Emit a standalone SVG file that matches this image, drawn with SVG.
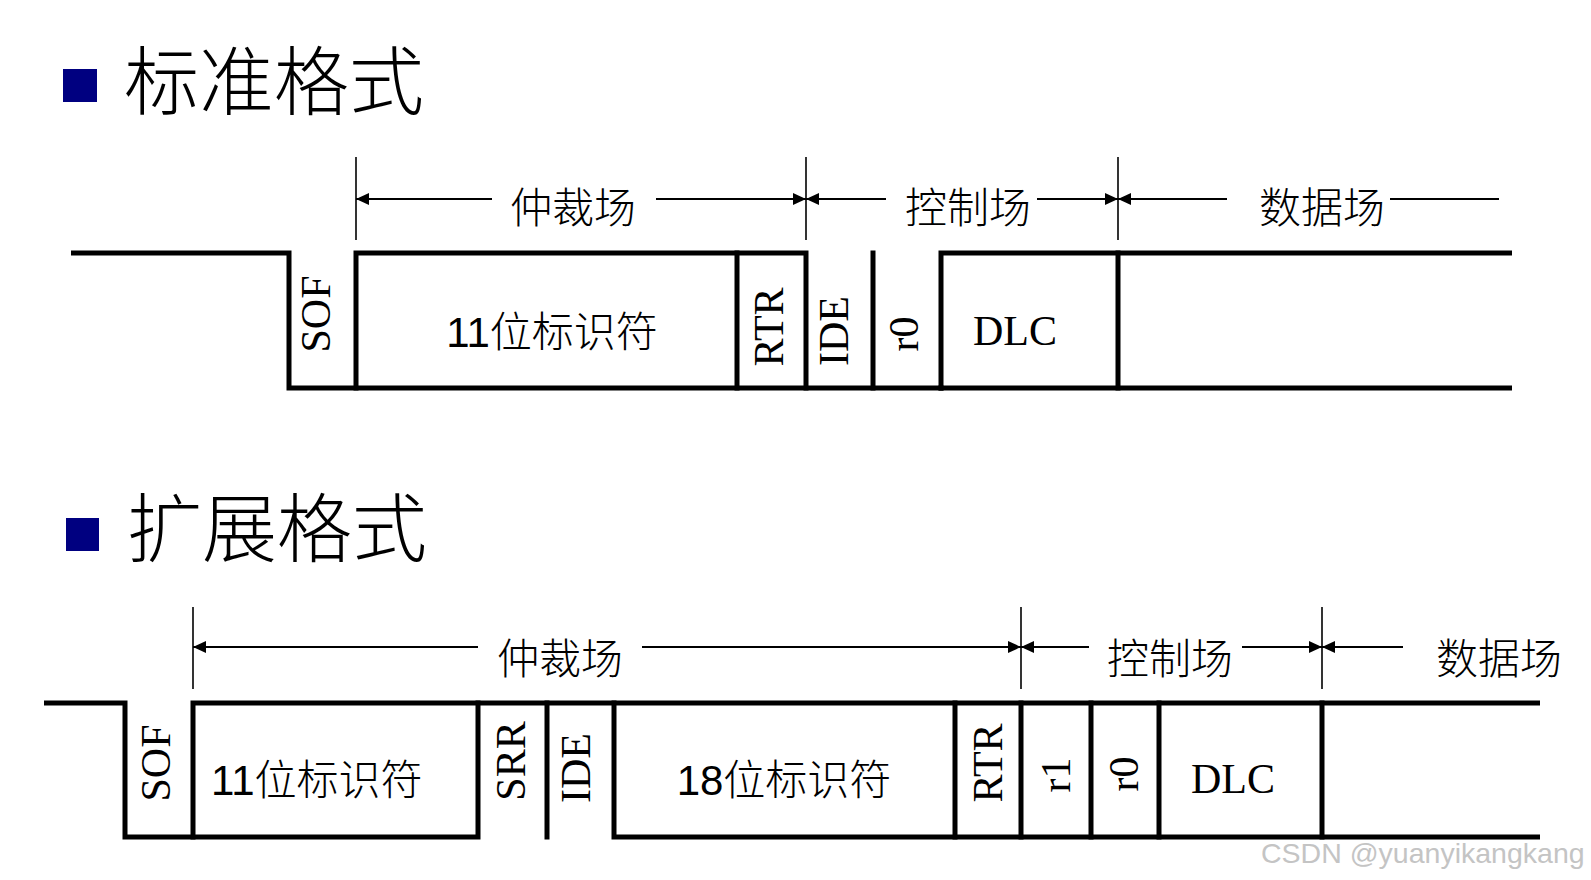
<svg xmlns="http://www.w3.org/2000/svg" width="1591" height="880" viewBox="0 0 1591 880">
<style>
.frame{fill:none;stroke:#000;stroke-width:5;stroke-linecap:square}
.tick{stroke:#000;stroke-width:1.6}
.dim{stroke:#000;stroke-width:2;fill:none}
.title{font-family:"Noto Sans CJK SC",sans-serif;font-size:75px;font-weight:300;fill:#000}
.lbl{font-family:"Noto Sans CJK SC",sans-serif;font-size:42px;font-weight:300;fill:#000;text-anchor:middle}
.id{font-family:"Liberation Sans","Noto Sans CJK SC",sans-serif;font-size:42px;font-weight:300;fill:#000}
.bit{font-family:"Liberation Serif",serif;font-size:42px;fill:#000;text-anchor:middle}
.wm{font-family:"Liberation Sans",sans-serif;font-size:28.5px;fill:#c4c4c4}
</style>
<defs>
<marker id="ah" markerUnits="userSpaceOnUse" markerWidth="14" markerHeight="12" refX="13" refY="6" orient="auto-start-reverse">
<path d="M0,0 L13,6 L0,12 Z" fill="#000"/>
</marker>
</defs>
<rect width="1591" height="880" fill="#fff"/>

<!-- Titles -->
<g id="title-standard">
<rect x="63" y="69" width="34" height="33" fill="#000080"/>
<text class="title" x="124" y="109">标准格式</text>
</g>
<g id="title-extended">
<rect x="66" y="518" width="33" height="33" fill="#000080"/>
<text class="title" x="127" y="556">扩展格式</text>
</g>

<!-- Standard frame -->
<g id="std-frame">
<path class="frame" d="M73.5,253 H289 V388 H941"/>
<path class="frame" d="M356,388 V253 H806 V388"/>
<path class="frame" d="M737,253 V388"/>
<path class="frame" d="M873,253 V388"/>
<path class="frame" d="M941,388 V253 H1509.5"/>
<path class="frame" d="M941,388 H1509.5"/>
<path class="frame" d="M1118,253 V388"/>
</g>
<g id="std-sof"><text class="bit" transform="rotate(-90 330 314)" x="330" y="314">SOF</text></g>
<g id="std-id11"><text class="id" x="552" y="347" text-anchor="middle">11位标识符</text></g>
<g id="std-rtr"><text class="bit" transform="rotate(-90 783 327)" x="783" y="327">RTR</text></g>
<g id="std-ide"><text class="bit" transform="rotate(-90 848 331)" x="848" y="331">IDE</text></g>
<g id="std-r0"><text class="bit" transform="rotate(-90 918 334)" x="918" y="334">r0</text></g>
<g id="std-dlc"><text class="bit" x="1015" y="345">DLC</text></g>

<!-- Standard dimension lines -->
<g id="std-connectors">
<line class="tick" x1="356" y1="157" x2="356" y2="240"/>
<line class="tick" x1="806" y1="157" x2="806" y2="240"/>
<line class="tick" x1="1118" y1="157" x2="1118" y2="240"/>
<line class="dim" x1="356" y1="199" x2="492" y2="199" marker-start="url(#ah)"/>
<line class="dim" x1="656" y1="199" x2="806" y2="199" marker-end="url(#ah)"/>
<line class="dim" x1="806" y1="199" x2="886" y2="199" marker-start="url(#ah)"/>
<line class="dim" x1="1037" y1="199" x2="1118" y2="199" marker-end="url(#ah)"/>
<line class="dim" x1="1118" y1="199" x2="1227" y2="199" marker-start="url(#ah)"/>
<line class="dim" x1="1390" y1="199" x2="1499" y2="199"/>
</g>
<g id="std-labels">
<text class="lbl" x="573" y="223">仲裁场</text>
<text class="lbl" x="968" y="223">控制场</text>
<text class="lbl" x="1322" y="223">数据场</text>
</g>

<!-- Extended frame -->
<g id="ext-frame">
<path class="frame" d="M46.5,703 H125 V837 H478 V703"/>
<path class="frame" d="M193,837 V703 H1537.5"/>
<path class="frame" d="M547,703 V837"/>
<path class="frame" d="M614,703 V837 H1537.5"/>
<path class="frame" d="M955,703 V837"/>
<path class="frame" d="M1021,703 V837"/>
<path class="frame" d="M1091,703 V837"/>
<path class="frame" d="M1159,703 V837"/>
<path class="frame" d="M1322,703 V837"/>
</g>
<g id="ext-sof"><text class="bit" transform="rotate(-90 170 763)" x="170" y="763">SOF</text></g>
<g id="ext-id11"><text class="id" x="211" y="795">11位标识符</text></g>
<g id="ext-srr"><text class="bit" transform="rotate(-90 525 761)" x="525" y="761">SRR</text></g>
<g id="ext-ide"><text class="bit" transform="rotate(-90 590 768)" x="590" y="768">IDE</text></g>
<g id="ext-id18"><text class="id" x="784" y="795" text-anchor="middle">18位标识符</text></g>
<g id="ext-rtr"><text class="bit" transform="rotate(-90 1002 763)" x="1002" y="763">RTR</text></g>
<g id="ext-r1"><text class="bit" transform="rotate(-90 1070 775)" x="1070" y="775">r1</text></g>
<g id="ext-r0"><text class="bit" transform="rotate(-90 1138 774)" x="1138" y="774">r0</text></g>
<g id="ext-dlc"><text class="bit" x="1233" y="793">DLC</text></g>

<!-- Extended dimension lines -->
<g id="ext-connectors">
<line class="tick" x1="193" y1="607" x2="193" y2="689"/>
<line class="tick" x1="1021" y1="607" x2="1021" y2="689"/>
<line class="tick" x1="1322" y1="607" x2="1322" y2="689"/>
<line class="dim" x1="193" y1="647" x2="478" y2="647" marker-start="url(#ah)"/>
<line class="dim" x1="642" y1="647" x2="1021" y2="647" marker-end="url(#ah)"/>
<line class="dim" x1="1021" y1="647" x2="1089" y2="647" marker-start="url(#ah)"/>
<line class="dim" x1="1242" y1="647" x2="1322" y2="647" marker-end="url(#ah)"/>
<line class="dim" x1="1322" y1="647" x2="1403" y2="647" marker-start="url(#ah)"/>
</g>
<g id="ext-labels">
<text class="lbl" x="560" y="674">仲裁场</text>
<text class="lbl" x="1170" y="674">控制场</text>
<text class="lbl" x="1499" y="674">数据场</text>
</g>

<text class="wm" x="1261" y="863">CSDN @yuanyikangkang</text>
</svg>
